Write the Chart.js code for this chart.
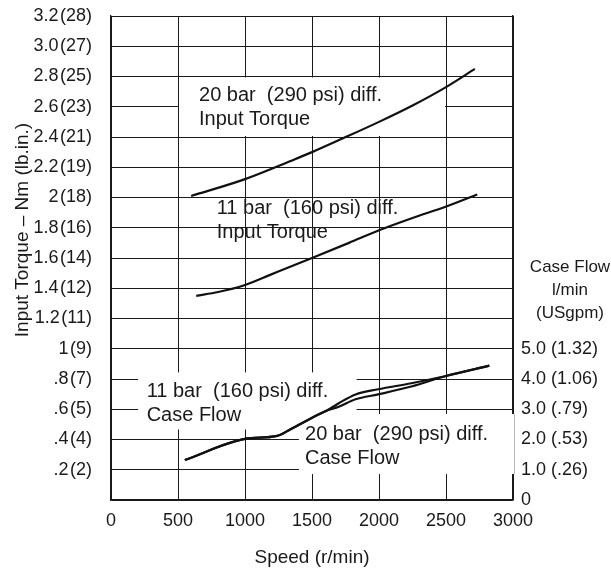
<!DOCTYPE html>
<html>
<head>
<meta charset="utf-8">
<script src="https://cdn.jsdelivr.net/npm/chart.js@4.4.1/dist/chart.umd.min.js"></script>
<style>
  html, body { margin: 0; padding: 0; background: #fff; }
</style>
</head>
<body>
<canvas id="myChart" width="611" height="569"></canvas>
<script>
// speed axis (r/min)
const speedTicks = [0, 500, 1000, 1500, 2000, 2500, 3000];

// left axis: input torque Nm, lb.in. in brackets
const torqueTicks = [0, 0.2, 0.4, 0.6, 0.8, 1.0, 1.2, 1.4, 1.6, 1.8, 2.0, 2.2, 2.4, 2.6, 2.8, 3.0, 3.2];
const torqueNm = ['', '.2', '.4', '.6', '.8', '1', '1.2', '1.4', '1.6', '1.8', '2', '2.2', '2.4', '2.6', '2.8', '3.0', '3.2'];
const torqueLbIn = ['', '2', '4', '5', '7', '9', '11', '12', '14', '16', '18', '19', '21', '23', '25', '27', '28'];

// right axis: case flow l/min, USgpm in brackets
const flowTicks = [0, 1, 2, 3, 4, 5];
const flowLpm = ['0', '1.0', '2.0', '3.0', '4.0', '5.0'];
const flowGpm = ['', '.26', '.53', '.79', '1.06', '1.32'];

// input torque curves
const speedTorque20 = [598, 995, 1364, 1500, 1728, 2000, 2254, 2500, 2715];
const torque20 = [2.01, 2.12, 2.25, 2.30, 2.39, 2.50, 2.61, 2.73, 2.85];
const speedTorque11 = [636, 800, 995, 1192, 1500, 1776, 2005, 2250, 2502, 2733];
const torque11 = [1.35, 1.375, 1.42, 1.49, 1.60, 1.70, 1.785, 1.865, 1.94, 2.02];

// case flow curves
const speedFlow = [551, 1000, 1241, 1340, 1560, 1608, 1700, 1825, 1993, 2241, 2500, 2823];
const flow20 = [1.32, 2.02, 2.12, 2.34, 2.85, 2.95, 3.20, 3.49, 3.66, 3.86, 4.10, 4.44];
const flow11 = [1.32, 2.02, 2.12, 2.34, 2.85, 2.95, 3.08, 3.33, 3.49, 3.75, 4.10, 4.44];

const FONT = "'Liberation Sans', Arial, sans-serif";
const INK = '#1a1a1a';

// white boxes behind the curve notes (speed / torque units)
const maskBoxes = [
  { x0: 500, x1: 2500, y0: 2.4, y1: 2.8 },
  { x0: 195, x1: 1840, y0: 0.46, y1: 0.85 },
  { x0: 1395, x1: 3015, y0: 0.165, y1: 0.575, edge: true }
];

const notes = [
  { x: 657, y: 2.638, lines: ['20 bar  (290 psi) diff.', 'Input Torque'] },
  { x: 789, y: 1.891, lines: ['11 bar  (160 psi) diff.', 'Input Torque'] },
  { x: 266, y: 0.683, lines: ['11 bar  (160 psi) diff.', 'Case Flow'] },
  { x: 1448, y: 0.397, lines: ['20 bar  (290 psi) diff.', 'Case Flow'] }
];

function pts(xs, ys) {
  return xs.map((x, i) => ({ x: x, y: ys[i] }));
}

function curve(label, xs, ys, axis) {
  return {
    label: label,
    data: pts(xs, ys),
    yAxisID: axis,
    borderColor: '#111',
    borderWidth: 2.2,
    pointRadius: 0,
    fill: false,
    cubicInterpolationMode: 'monotone'
  };
}

const notesPlugin = {
  id: 'notes',
  beforeDraw(chart) {
    const ctx = chart.ctx;
    ctx.save();
    ctx.fillStyle = '#fff';
    ctx.fillRect(0, 0, chart.width, chart.height);
    ctx.restore();
  },
  beforeDatasetsDraw(chart) {
    const ctx = chart.ctx, sx = chart.scales.x, sy = chart.scales.y;
    ctx.save();
    maskBoxes.forEach(b => {
      const l = sx.getPixelForValue(b.x0), r = sx.getPixelForValue(b.x1);
      const t = sy.getPixelForValue(b.y1), btm = sy.getPixelForValue(b.y0);
      ctx.fillStyle = '#fff';
      ctx.fillRect(l + 1, t + 1, r - l - 2, btm - t - 2);
      if (b.edge) {
        ctx.strokeStyle = '#bbb';
        ctx.lineWidth = 1;
        ctx.beginPath();
        ctx.moveTo(r - 0.5, t + 1);
        ctx.lineTo(r - 0.5, btm - 1);
        ctx.stroke();
      }
    });
    ctx.restore();
  },
  afterDatasetsDraw(chart) {
    const ctx = chart.ctx, sx = chart.scales.x, sy = chart.scales.y;
    const area = chart.chartArea;
    ctx.save();
    ctx.fillStyle = INK;
    ctx.font = '20px ' + FONT;
    ctx.textAlign = 'left';
    ctx.textBaseline = 'alphabetic';
    notes.forEach(n => {
      const px = sx.getPixelForValue(n.x), py = sy.getPixelForValue(n.y);
      n.lines.forEach((s, i) => ctx.fillText(s, px, py + i * 24));
    });

    // left axis title
    ctx.save();
    ctx.translate(27.5, area.top + 214);
    ctx.rotate(-Math.PI / 2);
    ctx.textAlign = 'center';
    ctx.font = '19px ' + FONT;
    ctx.fillText('Input Torque \u2013 Nm (lb.in.)', 0, 0);
    ctx.restore();

    // right axis title
    ctx.textAlign = 'center';
    ctx.font = '17px ' + FONT;
    const cx = area.right + 57;
    ['Case Flow', 'l/min', '(USgpm)'].forEach((s, i) => {
      ctx.fillText(s, cx, area.top + 256 + i * 23);
    });
    ctx.restore();
  }
};

const ctx = document.getElementById('myChart').getContext('2d');
const myChart = new Chart(ctx, {
  type: 'line',
  data: {
    datasets: [
      curve('20 bar Input Torque', speedTorque20, torque20, 'y'),
      curve('11 bar Input Torque', speedTorque11, torque11, 'y'),
      curve('20 bar Case Flow', speedFlow, flow20, 'y1'),
      curve('11 bar Case Flow', speedFlow, flow11, 'y1')
    ]
  },
  options: {
    responsive: false,
    animation: false,
    devicePixelRatio: 1,
    layout: { padding: { top: 16, left: 0, right: 0, bottom: 0 } },
    plugins: {
      legend: { display: false },
      tooltip: { enabled: false }
    },
    scales: {
      x: {
        type: 'linear',
        min: 0,
        max: 3000,
        afterBuildTicks: s => { s.ticks = speedTicks.map(v => ({ value: v })); },
        afterFit: s => { s.height = 69; s.paddingLeft = 0; s.paddingRight = 0; },
        grid: { color: INK, lineWidth: 1, drawTicks: false },
        border: { color: INK, width: 1.3 },
        ticks: {
          padding: 10,
          color: INK,
          font: { family: FONT, size: 18 },
          callback: (v, i) => String(speedTicks[i])
        },
        title: {
          display: true,
          text: 'Speed (r/min)',
          color: INK,
          font: { family: FONT, size: 19 },
          padding: { top: 2, bottom: 0 }
        }
      },
      y: {
        type: 'linear',
        position: 'left',
        min: 0,
        max: 3.2,
        afterBuildTicks: s => { s.ticks = torqueTicks.map(v => ({ value: v })); },
        afterFit: s => { s.width = 111; s.paddingTop = 0; s.paddingBottom = 0; },
        grid: { color: INK, lineWidth: 1, drawTicks: false },
        border: { color: INK, width: 1.3 },
        ticks: {
          padding: 19,
          color: INK,
          font: { family: FONT, size: 18 },
          callback: (v, i) => torqueNm[i] ? torqueNm[i] + '\u200A(' + torqueLbIn[i] + ')' : ''
        }
      },
      y1: {
        type: 'linear',
        position: 'right',
        min: 0,
        max: 16,
        afterBuildTicks: s => { s.ticks = flowTicks.map(v => ({ value: v })); },
        afterFit: s => { s.width = 98; s.paddingTop = 0; s.paddingBottom = 0; },
        grid: { display: false, drawTicks: false },
        border: { color: INK, width: 1.3 },
        ticks: {
          padding: 8,
          color: INK,
          font: { family: FONT, size: 18 },
          callback: (v, i) => flowGpm[i] ? flowLpm[i] + ' (' + flowGpm[i] + ')' : flowLpm[i]
        }
      }
    }
  },
  plugins: [notesPlugin]
});
</script>
</body>
</html>
